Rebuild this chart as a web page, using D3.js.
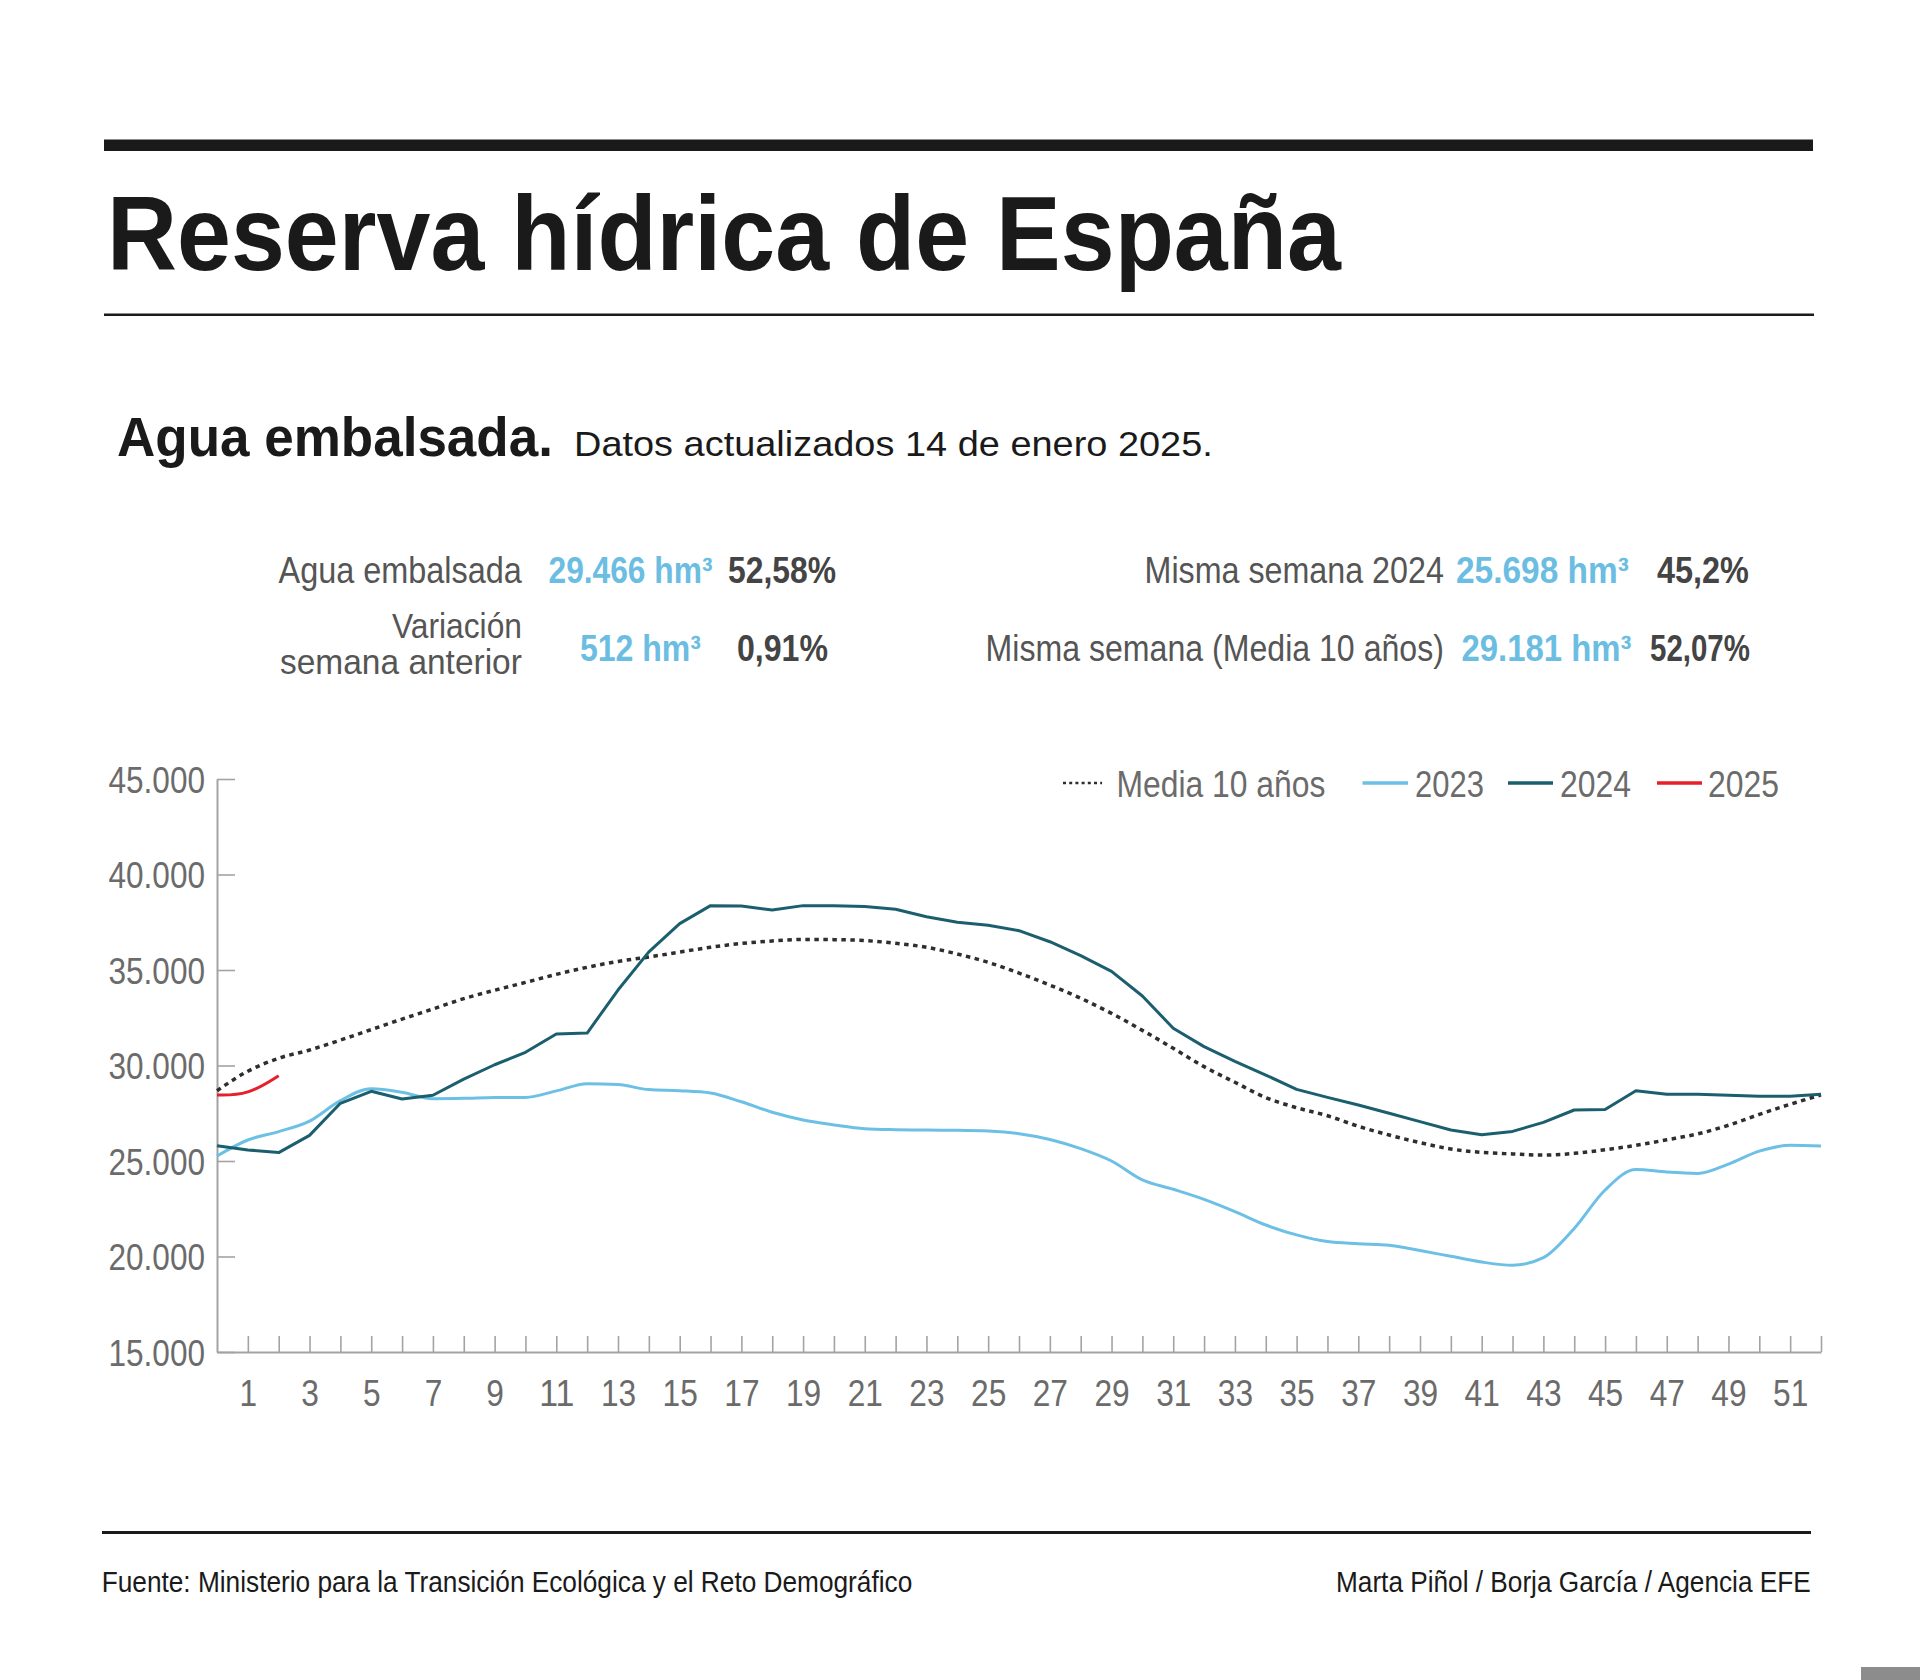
<!DOCTYPE html>
<html><head><meta charset="utf-8">
<script src="https://cdn.jsdelivr.net/npm/d3@7"></script>
<style>
html,body{margin:0;padding:0;background:#fff;}
svg{display:block;}
</style></head><body>
<script>
// ---------------- DATA ----------------
const weeks = d3.range(0, 53);
const media10 = [28680, 29700, 30380, 30810, 31330, 31880, 32430, 32960, 33500, 33940, 34350, 34770, 35140, 35450, 35680, 35940, 36190, 36390, 36520, 36600, 36590, 36540, 36400, 36190, 35840, 35400, 34840, 34210, 33520, 32730, 31840, 30900, 29940, 29120, 28320, 27790, 27370, 26820, 26360, 25960, 25630, 25450, 25370, 25310, 25400, 25590, 25820, 26110, 26420, 26870, 27440, 27970, 28460];
const serie2023 = [25260, 26100, 26540, 27090, 28160, 28780, 28600, 28260, 28280, 28330, 28330, 28670, 29050, 29000, 28740, 28680, 28560, 28100, 27550, 27150, 26890, 26690, 26640, 26620, 26610, 26570, 26430, 26130, 25650, 25000, 24010, 23520, 22990, 22350, 21650, 21130, 20780, 20670, 20590, 20310, 20010, 19710, 19540, 19940, 21470, 23480, 24560, 24420, 24350, 24840, 25520, 25820, 25790];
const serie2024 = [25800, 25580, 25440, 26340, 28020, 28650, 28250, 28440, 29290, 30040, 30690, 31650, 31700, 33950, 35950, 37430, 38370, 38350, 38140, 38370, 38370, 38330, 38180, 37790, 37500, 37340, 37060, 36480, 35750, 34930, 33640, 31950, 30990, 30220, 29500, 28750, 28330, 27930, 27500, 27060, 26620, 26380, 26550, 27020, 27670, 27700, 28680, 28490, 28490, 28440, 28390, 28390, 28490];
const weeks2025 = [0, 1, 2];
const serie2025 = [28450, 28450, 29466];

const yTicks = [15000, 20000, 25000, 30000, 35000, 40000, 45000];
const xTicks = d3.range(1, 53);
const xTickLabels = [1, 3, 5, 7, 9, 11, 13, 15, 17, 19, 21, 23, 25, 27, 29, 31, 33, 35, 37, 39, 41, 43, 45, 47, 49, 51];

const legendLabels = ["Media 10 años", "2023", "2024", "2025"];

const titleText = "Reserva hídrica de España";
const subtitleBold = "Agua embalsada.";
const subtitleRest = "Datos actualizados 14 de enero 2025.";

const statLabels = ["Agua embalsada", "Variación", "semana anterior", "Misma semana 2024", "Misma semana (Media 10 años)"];
const statHm = ["29.466", "512", "25.698", "29.181"];
const statPct = ["52,58%", "0,91%", "45,2%", "52,07%"];

const sourceText = "Fuente: Ministerio para la Transición Ecológica y el Reto Demográfico";
const creditText = "Marta Piñol / Borja García / Agencia EFE";

// ---------------- STYLE ----------------
const SANS = "'Liberation Sans',Arial,Helvetica,sans-serif";
const C2023 = "#6cc0e5", C2024 = "#1b5f6f", C2025 = "#e5202b", CMED = "#2e2e2e";
const BLUE = "#6bbde2", GRAYTXT = "#555", DARK = "#444";

const W = 1920, H = 1680;
const svg = d3.select("body").append("svg").attr("width", W).attr("height", H);
svg.append("rect").attr("width", W).attr("height", H).attr("fill", "#fff");

// text placed at left x / baseline yb, squeezed horizontally to width w
function T(g, s, x, yb, o) {
  const t = g.append("text").attr("x", 0).attr("y", 0).text(s)
    .attr("font-size", o.size).attr("font-weight", o.weight || 400)
    .attr("fill", o.fill || "#222").attr("font-family", SANS);
  let k = 1;
  if (o.w) {
    const nat = t.node().getComputedTextLength();
    if (nat > 0) k = o.w / nat;
  }
  t.attr("transform", `translate(${x},${yb}) scale(${k},1)`);
  return t;
}

// ---------------- HEADER ----------------
svg.append("rect").attr("x", 104).attr("y", 139.5).attr("width", 1709).attr("height", 11.5).attr("fill", "#1a1a1a");
T(svg, titleText, 107, 270, {size: 105, weight: 700, fill: "#1a1a1a", w: 1234});
svg.append("rect").attr("x", 104).attr("y", 313.5).attr("width", 1710).attr("height", 2.5).attr("fill", "#1a1a1a");

T(svg, subtitleBold, 117, 456, {size: 56, weight: 700, fill: "#1a1a1a", w: 436});
T(svg, subtitleRest, 574, 456, {size: 36, fill: "#1a1a1a", w: 639});

// ---------------- STATS ----------------
const st = svg.append("g");
function hm(val, x, yb, w) {
  T(st, val + " hm\u00B3", x, yb, {size: 37, weight: 700, fill: BLUE, w: w});
}
T(st, statLabels[0], 278.5, 583, {size: 37, fill: GRAYTXT, w: 243.5});
hm(statHm[0], 548.5, 583, 164);
T(st, statPct[0], 728, 583, {size: 37, weight: 700, fill: DARK, w: 108});

T(st, statLabels[1], 392, 638, {size: 36, fill: GRAYTXT, w: 130});
T(st, statLabels[2], 280, 674, {size: 36, fill: GRAYTXT, w: 242});
hm(statHm[1], 580, 661, 121);
T(st, statPct[1], 737, 661, {size: 37, weight: 700, fill: DARK, w: 91});

T(st, statLabels[3], 1144.6, 583, {size: 37, fill: GRAYTXT, w: 299.4});
hm(statHm[2], 1456, 583, 173);
T(st, statPct[2], 1657, 583, {size: 37, weight: 700, fill: DARK, w: 92});

T(st, statLabels[4], 985.6, 661, {size: 37, fill: GRAYTXT, w: 458.4});
hm(statHm[3], 1461.5, 661, 170);
T(st, statPct[3], 1650, 661, {size: 37, weight: 700, fill: DARK, w: 100});

// ---------------- CHART ----------------
const x = d3.scaleLinear().domain([0, 52]).range([217, 1821]);
const y = d3.scaleLinear().domain([15000, 45000]).range([1352, 779]);
const loc = d3.formatLocale({decimal: ",", thousands: ".", grouping: [3], currency: ["", "€"]});
const fmt = loc.format(",");
const AX = "#a3a3a3", TICKTXT = "#6b6b6b";

function labelWidth(s) {
  let w = 0;
  for (const ch of String(s)) w += (ch === "." ? 8.5 : 17.6);
  return w;
}

const gy = svg.append("g").attr("transform", "translate(217,0)")
  .call(d3.axisLeft(y).tickValues(yTicks).tickSizeInner(-18).tickSizeOuter(0).tickPadding(12).tickFormat(fmt));
const gx = svg.append("g").attr("transform", "translate(0,1352)")
  .call(d3.axisBottom(x).tickValues(xTicks).tickSizeInner(-16).tickSizeOuter(0).tickPadding(28)
    .tickFormat(d => xTickLabels.includes(d) ? d : ""));

[gy, gx].forEach(g => {
  g.select(".domain").attr("stroke", AX).attr("stroke-width", 2);
  g.selectAll(".tick line").attr("stroke", AX).attr("stroke-width", 1.6);
  g.selectAll(".tick text").attr("fill", TICKTXT).attr("font-size", 37).attr("font-family", SANS)
    .each(function () {
      const s = d3.select(this).text();
      if (s) d3.select(this).attr("textLength", labelWidth(s)).attr("lengthAdjust", "spacingAndGlyphs");
    });
});
gy.selectAll(".tick text").attr("dy", "0.36em");

const lineMono = d3.line().x((d, i) => x(weeks[i])).y(d => y(d)).curve(d3.curveMonotoneX);
const lineLin = d3.line().x((d, i) => x(weeks[i])).y(d => y(d));
const line25 = d3.line().x((d, i) => x(weeks2025[i])).y(d => y(d)).curve(d3.curveBasis);

const lines = svg.append("g").attr("fill", "none").attr("stroke-linejoin", "round");
lines.append("path").attr("d", lineMono(serie2023)).attr("stroke", C2023).attr("stroke-width", 3);
lines.append("path").attr("d", lineMono(media10)).attr("stroke", CMED).attr("stroke-width", 3.5).attr("stroke-dasharray", "4.5 4.5");
lines.append("path").attr("d", lineLin(serie2024)).attr("stroke", C2024).attr("stroke-width", 3);
lines.append("path").attr("d", line25(serie2025)).attr("stroke", C2025).attr("stroke-width", 3);

// ---------------- LEGEND ----------------
const lg = svg.append("g");
const legendStyle = [
  {x1: 1063, x2: 1102, tx: 1116.5, tw: 209, stroke: CMED, sw: 2.5, dash: "3 3.2"},
  {x1: 1362.5, x2: 1408, tx: 1415, tw: 69, stroke: C2023, sw: 3.5},
  {x1: 1508, x2: 1553, tx: 1560, tw: 71, stroke: C2024, sw: 3.5},
  {x1: 1657, x2: 1702, tx: 1708, tw: 71, stroke: C2025, sw: 3.5}
];
legendLabels.forEach((lab, i) => {
  const s = legendStyle[i];
  const l = lg.append("line").attr("x1", s.x1).attr("x2", s.x2).attr("y1", 783).attr("y2", 783)
    .attr("stroke", s.stroke).attr("stroke-width", s.sw);
  if (s.dash) l.attr("stroke-dasharray", s.dash);
  T(lg, lab, s.tx, 797, {size: 37, fill: TICKTXT, w: s.tw});
});

// ---------------- FOOTER ----------------
svg.append("rect").attr("x", 102).attr("y", 1531).attr("width", 1709).attr("height", 3).attr("fill", "#1a1a1a");
T(svg, sourceText, 101.7, 1592, {size: 29, fill: "#1a1a1a", w: 811});
T(svg, creditText, 1336, 1592, {size: 29, fill: "#1a1a1a", w: 475});
svg.append("rect").attr("x", 1861).attr("y", 1667).attr("width", 59).attr("height", 13).attr("fill", "#8c8c8c");
</script>
</body></html>
